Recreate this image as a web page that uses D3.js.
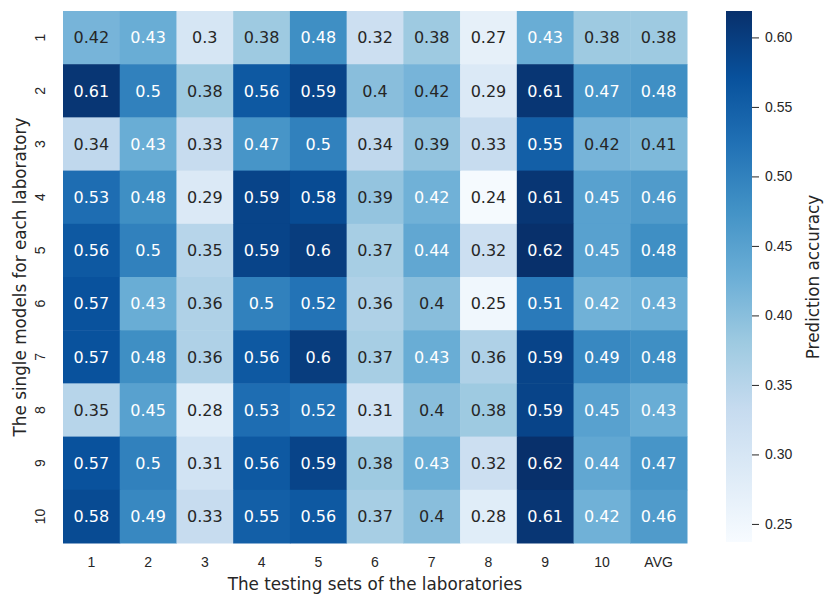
<!DOCTYPE html>
<meta charset="utf-8">
<head>
	<script src="https://cdnjs.cloudflare.com/ajax/libs/d3/7.8.5/d3.min.js"></script>
	<style>
		body {
			margin: 0;
			background: #fff;
			font-family: "DejaVu Sans", sans-serif;
		}
		.axis path,
		.axis line {
			stroke: #262626;
		}
		.axis text {
			fill: #262626;
		}
	</style>
</head>

<body>
	<div id="chart"></div>
</body>

<script type="text/javascript">

	// testing sets (columns) and single models (rows)
	var colLabels = ["1", "2", "3", "4", "5", "6", "7", "8", "9", "10", "AVG"];
	var rowLabels = ["1", "2", "3", "4", "5", "6", "7", "8", "9", "10"];

	// prediction accuracy, one array per model (row)
	var row1  = [0.417, 0.43, 0.30, 0.38, 0.48, 0.32, 0.38, 0.27, 0.43, 0.38, 0.38];
	var row2  = [0.61, 0.50, 0.38, 0.56, 0.59, 0.40, 0.417, 0.29, 0.61, 0.47, 0.48];
	var row3  = [0.34, 0.43, 0.33, 0.47, 0.50, 0.34, 0.39, 0.33, 0.55, 0.417, 0.41];
	var row4  = [0.53, 0.48, 0.29, 0.59, 0.58, 0.39, 0.423, 0.24, 0.61, 0.45, 0.46];
	var row5  = [0.56, 0.50, 0.35, 0.59, 0.60, 0.37, 0.44, 0.32, 0.62, 0.45, 0.48];
	var row6  = [0.57, 0.43, 0.36, 0.50, 0.52, 0.36, 0.40, 0.25, 0.51, 0.423, 0.43];
	var row7  = [0.57, 0.48, 0.36, 0.56, 0.60, 0.37, 0.43, 0.36, 0.59, 0.49, 0.48];
	var row8  = [0.35, 0.45, 0.28, 0.53, 0.52, 0.31, 0.40, 0.38, 0.59, 0.45, 0.43];
	var row9  = [0.57, 0.50, 0.31, 0.56, 0.59, 0.38, 0.43, 0.32, 0.62, 0.44, 0.47];
	var row10 = [0.58, 0.49, 0.33, 0.55, 0.56, 0.37, 0.40, 0.28, 0.61, 0.423, 0.46];
	var values = [row1, row2, row3, row4, row5, row6, row7, row8, row9, row10];

	var colorDomain = [0.237, 0.619];
	var cbarTicks = [0.25, 0.30, 0.35, 0.40, 0.45, 0.50, 0.55, 0.60];

	var blues = ["#f7fbff", "#deebf7", "#c6dbef", "#9ecae1", "#6baed6",
		"#4292c6", "#2171b5", "#08519c", "#08306b"];

	var W = 829, H = 597;
	var hm = {left: 63, right: 687, top: 11, bottom: 543};
	var cb = {left: 726, right: 752};

	var svg = d3.select("#chart").append("svg")
		.attr("width", W)
		.attr("height", H);

	var x = d3.scaleBand()
		.domain(colLabels)
		.range([hm.left, hm.right]);

	var y = d3.scaleBand()
		.domain(rowLabels)
		.range([hm.top, hm.bottom]);

	var color = d3.scaleLinear()
		.domain(blues.map(function(d, i) { return colorDomain[0] + i * (colorDomain[1] - colorDomain[0]) / (blues.length - 1); }))
		.range(blues)
		.interpolate(d3.interpolateRgb)
		.clamp(true);

	function luminance(c) {
		var rgb = d3.rgb(c);
		var lin = [rgb.r, rgb.g, rgb.b].map(function(v) {
			v = v / 255;
			return v <= 0.03928 ? v / 12.92 : Math.pow((v + 0.055) / 1.055, 2.4);
		});
		return 0.2126 * lin[0] + 0.7152 * lin[1] + 0.0722 * lin[2];
	}

	var cells = [];
	values.forEach(function(row, i) {
		row.forEach(function(v, j) {
			cells.push({row: rowLabels[i], col: colLabels[j], value: v});
		});
	});

	var cell = svg.append("g")
		.attr("class", "cells")
		.selectAll("g")
		.data(cells)
		.enter().append("g");

	cell.append("rect")
		.attr("x", function(d) { return x(d.col); })
		.attr("y", function(d) { return y(d.row); })
		.attr("width", x.bandwidth() + 0.5)
		.attr("height", y.bandwidth() + 0.5)
		.style("fill", function(d) { return color(d.value); });

	cell.append("text")
		.attr("x", function(d) { return x(d.col) + x.bandwidth() / 2; })
		.attr("y", function(d) { return y(d.row) + y.bandwidth() / 2; })
		.attr("dy", "0.36em")
		.style("text-anchor", "middle")
		.style("font-size", "16px")
		.style("fill", function(d) { return luminance(color(d.value)) > 0.408 ? "#262626" : "#ffffff"; })
		.text(function(d) { return d3.format(".2~f")(d.value); });

	// axes
	var xaxis = svg.append("g")
		.attr("class", "x axis")
		.attr("transform", "translate(0," + hm.bottom + ")")
		.call(d3.axisBottom(x).tickSize(0).tickPadding(14));
	xaxis.select(".domain").remove();
	xaxis.selectAll("text").style("font-size", "14px");

	var yaxis = svg.append("g")
		.attr("class", "y axis")
		.attr("transform", "translate(" + hm.left + ",0)")
		.call(d3.axisLeft(y).tickSize(0).tickPadding(0));
	yaxis.select(".domain").remove();
	yaxis.selectAll("text")
		.style("font-size", "14px")
		.style("text-anchor", "middle")
		.attr("x", 0)
		.attr("y", 0)
		.attr("dy", "0.36em")
		.attr("transform", "translate(-23,0)rotate(-90)");

	svg.append("text")
		.attr("x", (hm.left + hm.right) / 2)
		.attr("y", 590)
		.style("text-anchor", "middle")
		.style("font-size", "16.8px")
		.style("fill", "#262626")
		.text("The testing sets of the laboratories");

	svg.append("text")
		.attr("transform", "translate(25.5," + (hm.top + hm.bottom) / 2 + ")rotate(-90)")
		.style("text-anchor", "middle")
		.style("font-size", "16.8px")
		.style("fill", "#262626")
		.text("The single models for each laboratory");

	// colorbar
	var cbY = d3.scaleLinear()
		.domain(colorDomain)
		.range([hm.bottom - 1, hm.top]);

	var grad = svg.append("defs").append("linearGradient")
		.attr("id", "cbar")
		.attr("x1", 0).attr("y1", 1)
		.attr("x2", 0).attr("y2", 0);
	grad.selectAll("stop")
		.data(color.domain())
		.enter().append("stop")
		.attr("offset", function(d) { return (d - colorDomain[0]) / (colorDomain[1] - colorDomain[0]); })
		.attr("stop-color", function(d) { return color(d); });

	svg.append("rect")
		.attr("x", cb.left)
		.attr("y", cbY(colorDomain[1]))
		.attr("width", cb.right - cb.left)
		.attr("height", cbY(colorDomain[0]) - cbY(colorDomain[1]))
		.style("fill", "url(#cbar)");

	var caxis = svg.append("g")
		.attr("class", "c axis")
		.attr("transform", "translate(" + cb.right + ",0)")
		.call(d3.axisRight(cbY).tickValues(cbarTicks).tickFormat(d3.format(".2f")).tickSize(7).tickPadding(6));
	caxis.select(".domain").remove();
	caxis.selectAll("text").style("font-size", "14px");

	svg.append("text")
		.attr("transform", "translate(819," + (hm.top + hm.bottom) / 2 + ")rotate(-90)")
		.style("text-anchor", "middle")
		.style("font-size", "16.8px")
		.style("fill", "#262626")
		.text("Prediction accuracy");
</script>
